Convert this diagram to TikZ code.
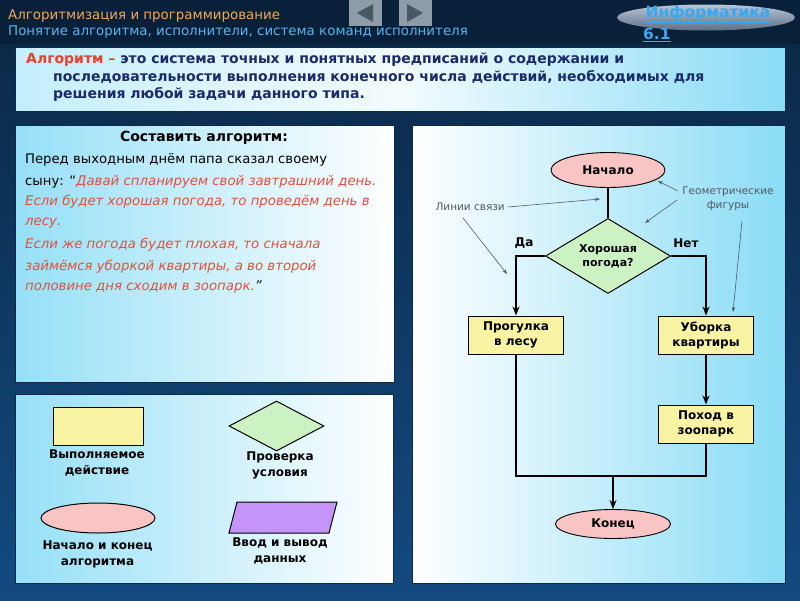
\documentclass[tikz,border=0pt]{standalone}
\usepackage{fontspec}
\setmainfont{DejaVu Sans}
\usetikzlibrary{shapes.geometric,arrows.meta}
\definecolor{bgtop}{HTML}{0A2744}
\definecolor{bghdr}{HTML}{08203A}
\definecolor{bgbot}{HTML}{134A80}
\definecolor{hdrorange}{HTML}{F0A858}
\definecolor{hdrblue}{HTML}{5AB4EA}
\definecolor{linkblue}{HTML}{38A8F0}
\definecolor{boxline}{HTML}{0C2A4C}
\definecolor{cyanA}{HTML}{8ADCF6}
\definecolor{cyanB}{HTML}{C4EEFC}
\definecolor{txtblue}{HTML}{1A2A6A}
\definecolor{redtxt}{HTML}{E8402A}
\definecolor{redit}{HTML}{E05040}
\definecolor{pinkc}{HTML}{F8C4C4}
\definecolor{greenc}{HTML}{CCF2C4}
\definecolor{yellowc}{HTML}{F8F4A4}
\definecolor{purplec}{HTML}{C494F8}
\definecolor{annot}{HTML}{505A66}
\definecolor{navgray}{HTML}{8E9CAA}
\definecolor{navdark}{HTML}{4A5866}
\definecolor{elltop}{HTML}{B8C6D8}
\definecolor{ellbot}{HTML}{5E6E84}
\newcommand\setfs[1]{\fontsize{#1}{#1}\selectfont}
\begin{document}
\begin{tikzpicture}[x=1pt,y=-1pt,
  panel/.style={draw=boxline, line width=0.8pt},
  term/.style={ellipse, draw=black, line width=0.9pt, fill=pinkc, inner sep=0pt, font=\bfseries\setfs{12}},
  proc/.style={rectangle, draw=black, line width=1pt, fill=yellowc, minimum width=95, minimum height=38, inner sep=0pt, align=center, font=\bfseries\fontsize{12}{15}\selectfont},
  cond/.style={diamond, draw=black, line width=1pt, fill=greenc, minimum width=125, minimum height=75, inner sep=0pt, shape aspect=1.7, align=center, font=\bfseries\fontsize{11}{14}\selectfont},
  flow/.style={line width=1.1pt, -{Stealth[length=9pt,width=7pt]}},
  plain/.style={line width=1.1pt},
  annotarrow/.style={draw=annot, line width=0.6pt, -{Stealth[length=5pt,width=3.5pt]}},
  annottext/.style={text=annot, font=\setfs{10.5}, align=center, inner sep=0pt},
  hdrtext/.style={anchor=west, inner sep=0pt, font=\setfs{13.4}},
  deftext/.style={anchor=west, inner sep=0pt, text=txtblue, font=\bfseries\setfs{14}},
  bodytext/.style={anchor=west, inner sep=0pt, font=\setfs{13.2}},
  redline/.style={anchor=west, inner sep=0pt, text=redit, font=\itshape\setfs{13.3}},
  legtext/.style={align=center, inner sep=0pt, font=\bfseries\fontsize{12}{16}\selectfont},
  lbl/.style={inner sep=0pt, font=\bfseries\setfs{12}}
]
\useasboundingbox (0,0) rectangle (800,600);
% background
\shade[top color=bgtop, bottom color=bgbot] (0,0) rectangle (800,600);
\fill[bghdr] (0,0) rectangle (800,44);

% header
\node[hdrtext, text=hdrorange] (h1) at (8,16) {Алгоритмизация и программирование};
\node[hdrtext, text=hdrblue] (h2) at (8,32) {Понятие алгоритма, исполнители, система команд исполнителя};

% nav buttons
\node[rectangle, fill=navgray, minimum width=33, minimum height=26, inner sep=0pt] (navl) at (365,13) {};
\node[rectangle, fill=navgray, minimum width=33, minimum height=26, inner sep=0pt] (navr) at (415,13) {};
\fill[navdark] ([xshift=8]navl.center) ++(0,-9) -- ++(0,18) -- ++(-16,-9) -- cycle;
\fill[navdark] ([xshift=-8]navr.center) ++(0,-9) -- ++(0,18) -- ++(16,-9) -- cycle;

% informatika ellipse
\node[ellipse, minimum width=178, minimum height=26, inner sep=0pt, top color=elltop, bottom color=ellbot, draw=none] (infell) at (706,17.5) {};
\node[inner sep=0pt, text=linkblue, font=\bfseries\setfs{15.5}] (inf) at (708,14) {\underline{Информатика}};
\node[inner sep=0pt, anchor=west, text=linkblue, font=\bfseries\setfs{15.5}] (inf61) at (643,35) {\underline{6.1}};

% definition box
\shade[panel, left color=cyanB, right color=cyanA, middle color=white!80!cyanB] (15,47) rectangle (785,111);
\node[deftext] (d1) at (26,60) {\textcolor{redtxt}{Алгоритм –} это система точных и понятных предписаний о содержании и};
\node[deftext] (d2) at (53,77) {последовательности выполнения конечного числа действий, необходимых для};
\node[deftext] (d3) at (53,94) {решения любой задачи данного типа.};

% task box
\shade[panel, left color=cyanA!90!white, right color=white] (15,125) rectangle (394,382);
\node[inner sep=0pt, font=\bfseries\setfs{14}] (t0) at (204,138) {Составить алгоритм:};
\node[bodytext] (t1) at (25,160) {Перед выходным днём папа сказал своему};
\node[bodytext] (t2) at (25,182) {сыну: “\textcolor{redit}{\itshape\setfs{13.3}Давай спланируем свой завтрашний день.}};
\node[redline] (t3) at (25,202) {Если будет хорошая погода, то проведём день в};
\node[redline] (t4) at (25,223) {лесу.};
\node[redline] (t5) at (25,245) {Если же погода будет плохая, то сначала};
\node[redline] (t6) at (25,267) {займёмся уборкой квартиры, а во второй};
\node[redline] (t7) at (25,287) {половине дня сходим в зоопарк.\textcolor{black}{”}};

% flowchart box
\shade[panel, left color=white, right color=cyanA] (412,125) rectangle (785,583);

\node[term, minimum width=114, minimum height=35] (start) at (608,170) {Начало};
\node[cond] (dec) at (608,256) {Хорошая\\погода?};
\node[proc] (walk) at (516,335) {Прогулка\\в лесу};
\node[proc] (clean) at (706,335) {Уборка\\квартиры};
\node[proc] (zoo) at (706,424) {Поход в\\зоопарк};
\node[term, minimum width=115, minimum height=29] (stop) at (613,524) {Конец};
\coordinate (join) at (613,476);

\node[lbl] (yes) at (524,243) {Да};
\node[lbl] (no) at (686,243) {Нет};

\draw[plain] (start) -- (dec);
\draw[flow] (dec.west) -| (walk.north);
\draw[flow] (dec.east) -| (clean.north);
\draw[flow] (clean) -- (zoo);
\draw[plain] (walk.south) |- (join);
\draw[plain] (zoo.south) |- (join);
\draw[flow] (join) -- (stop.north);

% annotations
\node[annottext, anchor=east] (links) at (505,207) {Линии связи};
\node[annottext] (geo) at (728,199) {Геометрические\\[3pt]фигуры};
\coordinate (a1) at (600,199);
\coordinate (a2t) at (463,218);
\coordinate (a2) at (507,274);
\coordinate (g1t) at (678,191);
\coordinate (g1) at (658,181);
\coordinate (g2t) at (677,200);
\coordinate (g2) at (645,223);
\coordinate (g3t) at (742,221);
\coordinate (g3) at (733,312);
\draw[annotarrow] ([xshift=3]links.east) -- (a1);
\draw[annotarrow] (a2t) -- (a2);
\draw[annotarrow] (g1t) -- (g1);
\draw[annotarrow] (g2t) -- (g2);
\draw[annotarrow] (g3t) -- (g3);

% legend box
\shade[panel, left color=cyanA!90!white, right color=white] (15,394) rectangle (393,583);
\node[rectangle, draw=black, line width=1pt, fill=yellowc, minimum width=90, minimum height=38, inner sep=0pt] (lrect) at (98,426) {};
\node[legtext] (lrectt) at (97,463) {Выполняемое\\действие};
\node[diamond, draw=black, line width=1pt, fill=greenc, minimum width=95, minimum height=50, inner sep=0pt] (ldia) at (276.5,426) {};
\node[legtext] (ldiat) at (280,465) {Проверка\\условия};
\node[ellipse, draw=black, line width=1pt, fill=pinkc, minimum width=114, minimum height=30, inner sep=0pt] (lell) at (98,518) {};
\node[legtext] (lellt) at (97.5,554) {Начало и конец\\алгоритма};
\draw[line width=1pt, fill=purplec] (237,502) -- (337,502) -- (329,533) -- (229,533) -- cycle;
\node[legtext] (lpart) at (280,551) {Ввод и вывод\\данных};
\end{tikzpicture}
\end{document}
